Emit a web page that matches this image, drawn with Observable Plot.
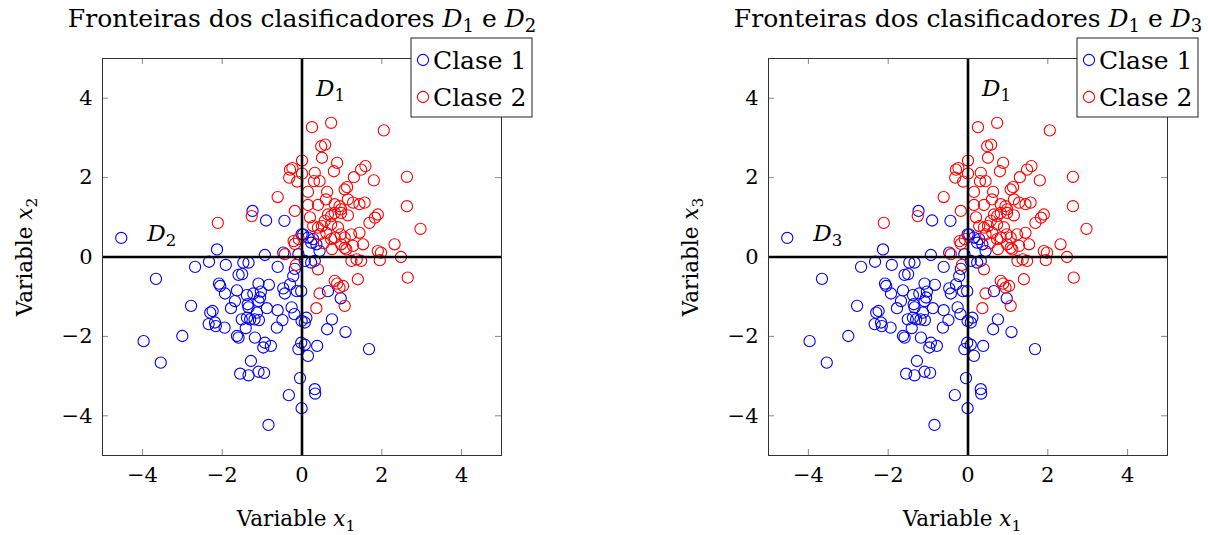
<!DOCTYPE html>
<html><head><meta charset="utf-8">
<script src="https://cdn.jsdelivr.net/npm/d3@7"></script>
<script src="https://cdn.jsdelivr.net/npm/@observablehq/plot@0.6"></script>
<style>
body{margin:0;background:#fff;}
#wrap{display:flex;width:1208px;height:535px;overflow:hidden;}
svg{overflow:visible;}
</style></head><body><div id="wrap"></div>
<script>
// Class 1 (blue) points: [x1, x2]
const clase1 = [
[-4.53,0.48],[-3.97,-2.12],[-3.66,-0.55],[-3.54,-2.66],[-3.0,-1.99],[-2.78,-1.23],[-2.68,-0.25],
[-1.24,1.16],[-0.9,0.92],[-0.44,0.91],[-2.13,0.19],[-2.33,-0.12],[-1.91,-0.2],[-1.47,-0.14],[-1.34,-0.14],
[-0.93,0.05],[-0.47,0.11],[-0.61,-0.25],[-0.01,0.57],[-0.09,0.07],[-0.18,-0.3],[-1.59,-0.45],[-1.5,-0.43],
[-2.08,-0.67],[-2.05,-0.73],[-1.93,-0.92],[-1.63,-0.84],[-1.09,-0.67],[-0.83,-0.70],[-1.22,-0.92],[-1.03,-0.87],
[-1.05,-1.02],[-1.38,-0.96],[-0.47,-0.79],[-0.3,-0.69],[-0.22,-0.48],[-0.43,-0.92],[-0.13,-0.86],[-1.68,-1.11],
[-1.78,-1.29],[-1.36,-1.19],[-1.34,-1.27],[-1.09,-1.11],[-0.88,-1.29],[-1.13,-1.40],[-0.61,-1.34],[-0.26,-1.27],
[-0.19,-1.44],[-2.3,-1.40],[-2.24,-1.36],[-2.34,-1.69],[-2.18,-1.65],[-2.16,-1.74],[-1.94,-1.78],[-1.51,-1.57],
[-1.38,-1.53],[-1.3,-1.57],[-1.19,-1.57],[-1.08,-1.59],[-1.41,-1.79],[-0.49,-1.59],[-0.63,-1.78],[-1.63,-1.99],
[-1.59,-2.03],[-1.18,-2.03],[-0.93,-2.16],[-0.78,-2.24],[-0.97,-2.28],[-0.09,-2.32],[-0.01,-1.61],
[-1.28,-2.62],[-1.55,-2.94],[-1.34,-2.98],[-1.09,-2.89],[-0.95,-2.92],[-0.05,-3.05],[-0.33,-3.48],[-0.01,-3.81],[-0.84,-4.23],
[0.65,-0.86],[0.97,-1.04],[-0.02,-0.86],[0.11,-1.53],[0.07,-1.65],[0.75,-1.57],[0.63,-1.82],[1.09,-1.89],
[-0.02,-2.16],[0.07,-2.21],[0.38,-2.24],[1.68,-2.32],[0.15,-2.49],[0.32,-3.33],[0.33,-3.44],
[0.03,0.57],[0.15,0.49],[0.28,0.45],[0.23,0.36],[0.36,0.32],[0.44,0.15],[0.07,-0.1],[0.23,-0.14],[0.32,-0.1]
];
// Class 2 (red) points: [x1, x2]
const clase2 = [
[-2.11,0.86],[-1.26,1.03],[-0.61,1.51],[-0.18,1.16],[-0.21,0.40],[-0.18,0.33],[-0.08,0.45],[-0.43,0.07],[-0.15,-0.2],
[-0.3,2.2],[-0.24,2.24],[-0.32,2.0],[-0.12,1.9],[0.0,2.43],
[0.25,3.27],[0.73,3.38],[2.05,3.19],[0.48,2.79],[0.58,2.83],[0.5,2.5],[0.88,2.37],[0.8,2.16],[0.0,2.1],[0.32,2.12],
[0.3,1.91],[0.44,1.91],[1.48,2.2],[1.59,2.29],[1.3,2.01],[1.8,1.93],[2.63,2.02],[0.15,1.64],[0.63,1.64],[1.07,1.70],[1.13,1.76],
[0.6,1.45],[1.15,1.45],[0.15,1.31],[0.4,1.31],[0.82,1.33],[0.94,1.28],[0.98,1.2],[1.28,1.37],[1.44,1.33],[1.57,1.37],
[2.63,1.28],[1.9,1.07],[1.83,0.99],[1.69,0.86],[0.65,1.07],[0.73,1.03],[0.82,1.11],[0.98,1.11],[0.57,0.91],[0.73,0.82],
[0.28,0.78],[0.4,0.74],[0.5,0.78],[0.44,0.57],[0.61,0.61],[0.73,0.45],[0.82,0.49],[0.97,0.57],[1.07,0.49],[1.23,0.57],
[1.44,0.61],[0.98,0.32],[1.07,0.23],[1.11,0.19],[1.28,0.28],[1.53,0.32],[1.9,0.15],[1.98,0.11],[2.32,0.32],[2.97,0.71],
[2.48,0.0],[1.24,-0.1],[1.37,-0.06],[1.48,-0.1],[1.95,-0.08],[0.4,-0.31],
[0.82,-0.6],[0.88,-0.67],[0.94,-0.77],[1.03,-0.73],[1.4,-0.56],[2.65,-0.52],[0.44,-0.92],[1.07,-1.23],[0.36,-1.29],
[0.55,0.35],[0.9,0.75],[1.15,1.05],[0.2,1.0],[0.75,0.2]
];
const tickValues = [-4,-2,0,2,4];
const legendLabels = ["Clase 1","Clase 2"];
const classColors = ["#0000ff","#ff0000"];
const titles = ["Fronteiras dos clasificadores $D_1$ e $D_2$","Fronteiras dos clasificadores $D_1$ e $D_3$"];
const yLabels = ["Variable $x_2$","Variable $x_3$"];
const xLabel = "Variable $x_1$";
const boundaryNames = [["$D_1$","$D_2$"],["$D_1$","$D_3$"]];
// annotation anchors in data units (vertical boundary label, horizontal boundary label)
const boundaryAnchorX = [0.35,-3.88];
const boundaryAnchorY = [4.25,0.6];

const FONT = "'DejaVu Serif','Liberation Serif',serif";
const FS = 21.5;

function richify(svg){
  svg.querySelectorAll("text").forEach(t=>{
    const targets = t.querySelectorAll("tspan").length ? [...t.querySelectorAll("tspan")] : [t];
    targets.forEach(el=>{
      const s = el.textContent;
      if(!s.includes("$")) return;
      const fs = parseFloat(getComputedStyle(el).fontSize) || FS;
      el.textContent = "";
      const parts = s.split(/\$([^$]+)\$/);
      let shift = 0;
      const ns = "http://www.w3.org/2000/svg";
      parts.forEach((p,i)=>{
        if(i%2===0){
          if(!p) return;
          const ts = document.createElementNS(ns,"tspan");
          if(shift){ts.setAttribute("dy", -shift); shift=0;}
          ts.textContent = p; el.appendChild(ts);
        } else {
          const [base, sub] = p.split("_");
          const ts = document.createElementNS(ns,"tspan");
          if(shift){ts.setAttribute("dy", -shift); shift=0;}
          ts.setAttribute("font-style","italic");
          ts.textContent = base; el.appendChild(ts);
          if(sub){
            const ss = document.createElementNS(ns,"tspan");
            const d = fs*0.22;
            ss.setAttribute("dy", d); shift = d;
            ss.setAttribute("font-size", fs*0.72);
            ss.textContent = sub; el.appendChild(ss);
          }
        }
      });
    });
  });
}

function panel(i, marginLeft, marginRight){
  const W = 604, H = 535, mt = 58, mb = 80;
  const fh = H - mt - mb, fw = W - marginLeft - marginRight;
  const ann = [
    {x: boundaryAnchorX[0], y: boundaryAnchorY[0], t: boundaryNames[i][0]},
    {x: boundaryAnchorX[1], y: boundaryAnchorY[1], t: boundaryNames[i][1]}
  ];
  const svg = Plot.plot({
    width: W, height: H, marginLeft, marginRight, marginTop: mt, marginBottom: mb,
    x: {domain: [-5,5]}, y: {domain: [-5,5]},
    style: {fontFamily: FONT, background: "white", overflow: "visible", color: "black"},
    marks: [
      Plot.tickX(tickValues, {x: d=>d, insetTop: fh-6, stroke: "#888", strokeWidth: 1}),
      Plot.tickX(tickValues, {x: d=>d, insetBottom: fh-6, stroke: "#888", strokeWidth: 1}),
      Plot.tickY(tickValues, {y: d=>d, insetRight: fw-6, stroke: "#888", strokeWidth: 1}),
      Plot.tickY(tickValues, {y: d=>d, insetLeft: fw-6, stroke: "#888", strokeWidth: 1}),
      Plot.axisX(tickValues, {tickSize: 0, tickPadding: 12, fontSize: 21, label: null}),
      Plot.axisY(tickValues, {tickSize: 0, tickPadding: 10, fontSize: 21, label: null}),
      Plot.dot(clase1, {x: d=>d[0], y: d=>d[1], r: 5.6, stroke: classColors[0], strokeWidth: 1.1, fill: "none"}),
      Plot.dot(clase2, {x: d=>d[0], y: d=>d[1], r: 5.6, stroke: classColors[1], strokeWidth: 1.1, fill: "none"}),
      Plot.ruleX([0], {stroke: "black", strokeWidth: 2.6}),
      Plot.ruleY([0], {stroke: "black", strokeWidth: 2.6}),
      Plot.frame({stroke: "#333", strokeWidth: 1}),
      Plot.text(ann, {x: "x", y: "y", text: "t", textAnchor: "start", fontSize: 23}),
      Plot.text([titles[i]], {frameAnchor: "top", lineAnchor: "middle", textAnchor: "middle", dy: -40, fontSize: 25, text: d=>d}),
      Plot.text([xLabel], {frameAnchor: "bottom", lineAnchor: "middle", textAnchor: "middle", dy: 64, dx: -6, fontSize: FS, text: d=>d}),
      Plot.text([yLabels[i]], {frameAnchor: "left", lineAnchor: "middle", textAnchor: "middle", dx: -77, rotate: -90, fontSize: FS, text: d=>d})
    ]
  });
  // legend box
  const right = W - marginRight;
  const g = d3.select(svg).append("g").attr("font-family", FONT).attr("font-size", 25).attr("text-anchor","start");
  g.append("rect").attr("x", right-90).attr("y", 38).attr("width", 121).attr("height", 79)
    .attr("fill","white").attr("stroke","#222").attr("stroke-width",1);
  legendLabels.forEach((lab,k)=>{
    const cy = 60 + k*37;
    g.append("circle").attr("cx", right-78).attr("cy", cy).attr("r", 5.6)
      .attr("fill","none").attr("stroke", classColors[k]).attr("stroke-width",1.1);
    g.append("text").attr("x", right-68).attr("y", cy).attr("dy","0.36em").attr("fill","black").text(lab);
  });
  return svg;
}
const wrap = document.getElementById("wrap");
const a = panel(0, 102, 103);
const b = panel(1, 164, 41);
wrap.appendChild(a); wrap.appendChild(b);
richify(a); richify(b);
</script></body></html>
